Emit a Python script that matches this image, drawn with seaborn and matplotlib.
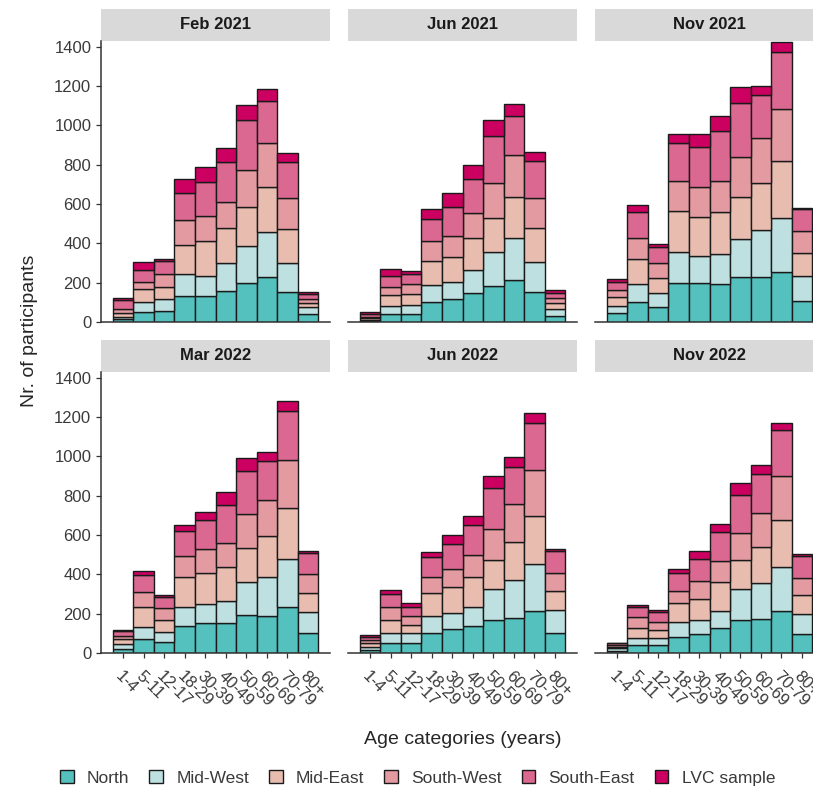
import matplotlib
matplotlib.use("Agg")
import matplotlib.pyplot as plt
from matplotlib.patches import Patch, Rectangle
import seaborn as sns
import pandas as pd

waves = ["Feb 2021", "Jun 2021", "Nov 2021", "Mar 2022", "Jun 2022", "Nov 2022"]
age_groups = ["1-4", "5-11", "12-17", "18-29", "30-39", "40-49",
              "50-59", "60-69", "70-79", "80+"]
regions = ["North", "Mid-West", "Mid-East", "South-West", "South-East", "LVC sample"]
colours = ["#55c1bf", "#bfe0e0", "#e8bdb0", "#e39aa0", "#db6890", "#cc0060"]

# participants per age group, one row per wave
north = [
    [17, 51, 56, 134, 134, 160, 197, 231, 154, 39],
    [6, 42, 42, 104, 119, 146, 185, 214, 154, 31],
    [48, 104, 75, 200, 200, 194, 228, 231, 253, 109],
    [22, 70, 58, 138, 155, 155, 194, 188, 233, 104],
    [15, 49, 49, 104, 124, 138, 168, 180, 214, 104],
    [12, 41, 39, 83, 97, 129, 168, 175, 216, 97],
]
mid_west = [
    [10, 51, 59, 109, 102, 139, 192, 229, 145, 36],
    [6, 41, 46, 83, 86, 119, 172, 212, 150, 37],
    [33, 88, 73, 158, 138, 151, 195, 238, 278, 127],
    [22, 64, 51, 98, 93, 112, 166, 201, 247, 103],
    [17, 55, 51, 84, 78, 95, 156, 192, 239, 115],
    [12, 34, 36, 77, 71, 85, 156, 180, 224, 102],
]
mid_east = [
    [17, 64, 65, 149, 177, 181, 197, 229, 175, 20],
    [8, 55, 53, 124, 124, 165, 174, 212, 176, 27],
    [45, 131, 74, 207, 195, 214, 215, 237, 289, 114],
    [25, 99, 59, 153, 161, 169, 176, 204, 260, 100],
    [17, 64, 43, 119, 132, 156, 150, 195, 245, 98],
    [8, 54, 42, 93, 109, 149, 150, 183, 237, 95],
]
south_west = [
    [21, 38, 63, 126, 125, 130, 188, 221, 156, 20],
    [7, 39, 53, 102, 109, 123, 177, 211, 150, 26],
    [37, 107, 77, 155, 156, 161, 204, 228, 265, 112],
    [20, 76, 60, 103, 119, 126, 170, 186, 240, 95],
    [17, 65, 45, 82, 96, 108, 158, 190, 234, 92],
    [9, 53, 43, 64, 90, 106, 139, 177, 224, 86],
]
south_east = [
    [45, 61, 66, 137, 173, 202, 255, 216, 182, 26],
    [14, 57, 50, 113, 146, 175, 239, 199, 190, 25],
    [41, 132, 85, 193, 204, 254, 272, 222, 287, 112],
    [24, 88, 56, 131, 149, 192, 221, 196, 253, 106],
    [17, 66, 48, 102, 123, 153, 210, 192, 241, 112],
    [8, 54, 51, 92, 112, 149, 192, 195, 235, 114],
]
lvc = [
    [10, 39, 14, 73, 77, 73, 76, 59, 50, 13],
    [8, 38, 14, 51, 71, 72, 82, 59, 44, 17],
    [13, 31, 13, 45, 65, 72, 81, 46, 51, 5],
    [5, 21, 10, 29, 39, 64, 65, 47, 47, 12],
    [7, 22, 17, 22, 48, 48, 61, 48, 48, 7],
    [4, 8, 8, 19, 41, 39, 59, 46, 37, 9],
]
y_ticks = [0, 200, 400, 600, 800, 1000, 1200, 1400]

region_counts = [north, mid_west, mid_east, south_west, south_east, lvc]
rows = []
for w, wave in enumerate(waves):
    for region, counts in zip(regions, region_counts):
        for a, age in enumerate(age_groups):
            rows.append({"wave": wave, "age": age, "region": region, "n": counts[w][a]})
df = pd.DataFrame(rows)
df["age"] = pd.Categorical(df["age"], categories=age_groups, ordered=True)

sns.set_style("ticks")
plt.rcParams["font.family"] = ["Liberation Sans", "DejaVu Sans"]

W, H = 813, 791
fig = plt.figure(figsize=(W / 100, H / 100), dpi=100)
axes = fig.subplots(2, 3)

palette = dict(zip(regions, colours))
lefts = [101, 348, 595]
bottoms = [322, 653]
pw, ph = 229, 281

for i, wave in enumerate(waves):
    r, c = divmod(i, 3)
    ax = axes[r, c]
    ax.set_position([lefts[c] / W, 1 - bottoms[r] / H, pw / W, ph / H])
    sns.histplot(data=df[df["wave"] == wave], x="age", hue="region", weights="n",
                 hue_order=regions[::-1], palette=palette, multiple="stack",
                 discrete=True, shrink=1, alpha=1, edgecolor="#1a1a1a",
                 linewidth=1.0, legend=False, ax=ax)
    ax.set_xlim(-1.085, 10.085)
    ax.set_ylim(0, 1430)
    ax.set_xlabel("")
    ax.set_ylabel("")
    sns.despine(ax=ax)
    for side in ("bottom", "left"):
        ax.spines[side].set_color("#333333")
        ax.spines[side].set_linewidth(1.1)
    ax.tick_params(colors="#333333", labelcolor="#3a3a3a", length=3.5, width=0.9,
                   labelsize=12)
    ax.set_yticks(y_ticks)
    ax.set_xticks(range(len(age_groups)))
    if r == 1:
        ax.set_xticklabels(age_groups)
        for lab in ax.get_xticklabels():
            lab.set_rotation(-45)
            lab.set_ha("left")
            lab.set_va("top")
            lab.set_rotation_mode("anchor")
        ax.tick_params(axis="x", pad=8)
    else:
        ax.tick_params(axis="x", bottom=False, labelbottom=False)
    if c > 0:
        ax.spines["left"].set_visible(False)
        ax.tick_params(axis="y", left=False, labelleft=False)

    # facet strip
    ax.add_patch(Rectangle((0, 1), 1, 32 / ph, transform=ax.transAxes,
                           facecolor="#d9d9d9", edgecolor="none", clip_on=False))
    ax.text(0.5, 1 + 16 / ph, wave, transform=ax.transAxes, ha="center",
            va="center", fontsize=12, fontweight="bold", color="#1a1a1a")

fig.text(462.5 / W, 1 - 740 / H, "Age categories (years)", ha="center",
         va="center", fontsize=14)
fig.text(30 / W, 1 - 331 / H, "Nr. of participants", rotation=90, ha="center",
         va="center", fontsize=14)

handles = [Patch(facecolor=col, edgecolor="#1a1a1a", linewidth=1.0) for col in colours]
fig.legend(handles, regions, loc="center", bbox_to_anchor=(417.5 / W, 1 - 778 / H),
           ncol=6, frameon=False, fontsize=12.5, handlelength=0.8, handleheight=0.8,
           handletextpad=0.75, columnspacing=1.15, labelcolor="#3a3a3a")

fig.savefig("out.png", dpi=100)
